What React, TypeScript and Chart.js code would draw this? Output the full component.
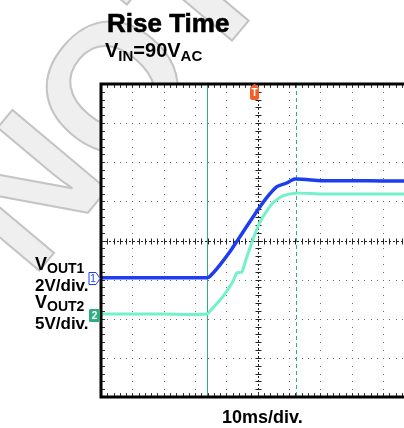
import React, { useEffect, useRef } from "react";
import { Chart, registerables } from "chart.js";

Chart.register(...registerables);

// Time axis (ms), 10 ms/div, 10 divisions
const xTicks = [-50, -40, -30, -20, -10, 0, 10, 20, 30, 40, 50];
// Vertical axis in divisions, 8 divisions
const yTicks = [-4, -3, -2, -1, 0, 1, 2, 3, 4];

// VOUT1 (2V/div) trace
const vout1Time = [-50, -30, -16.3, -15.3, -12.1, -8.9, -6.4, -3.6, 0, 2.8, 6.0, 9.2, 11.8, 20, 30, 40, 50];
const vout1Div = [-0.95, -0.95, -0.95, -0.92, -0.63, -0.29, 0.01, 0.35, 0.78, 1.09, 1.37, 1.47, 1.57, 1.53, 1.53, 1.52, 1.52];

// VOUT2 (5V/div) trace
const vout2Time = [-50, -30, -16.3, -14.4, -11.2, -8.0, -6.7, -5.1, -3.5, -1.6, 0, 1.6, 4.8, 8.0, 12.1, 20, 35, 50];
const vout2Div = [-1.88, -1.88, -1.88, -1.73, -1.44, -1.06, -0.83, -0.81, -0.42, 0.01, 0.35, 0.6, 0.96, 1.14, 1.21, 1.19, 1.19, 1.19];

// Cursors and trigger (ms)
const cursorTimes = [-16.3, 12.1];
const triggerTime = -1.2;

const BLUE = "#1e3cf0";
const CYAN = "#72f2ca";
const GREEN = "#2fae82";
const ORANGE = "#f2602a";

const scopePlugin = {
  id: "scope",
  beforeDatasetsDraw(chart: any) {
    const { ctx, chartArea: a, scales } = chart;
    const xs = scales.x;
    const ys = scales.y;
    ctx.save();
    ctx.fillStyle = "#fff";
    ctx.fillRect(a.left, a.top, a.right - a.left, a.bottom - a.top);
    // dotted grid
    ctx.fillStyle = "#6a6a6a";
    xTicks.forEach((gx) => {
      if (gx === 0 || gx === xTicks[0] || gx === xTicks[xTicks.length - 1]) return;
      const px = Math.round(xs.getPixelForValue(gx));
      for (let k = -20; k <= 20; k++) {
        const py = Math.round(ys.getPixelForValue(k / 5));
        ctx.fillRect(px, py, 1, 1);
      }
    });
    yTicks.forEach((gy) => {
      if (gy === 0 || gy === yTicks[0] || gy === yTicks[yTicks.length - 1]) return;
      const py = Math.round(ys.getPixelForValue(gy));
      for (let k = -25; k <= 25; k++) {
        const px = Math.round(xs.getPixelForValue(k * 2));
        ctx.fillRect(px, py, 1, 1);
      }
    });
    // center crosshair
    const cx = Math.round(xs.getPixelForValue(0)) + 0.5;
    const cy = Math.round(ys.getPixelForValue(0)) + 0.5;
    ctx.strokeStyle = "#222";
    ctx.lineWidth = 1;
    ctx.setLineDash([2, 2]);
    ctx.beginPath();
    ctx.moveTo(cx, a.top);
    ctx.lineTo(cx, a.bottom);
    ctx.moveTo(a.left, cy);
    ctx.lineTo(a.right, cy);
    ctx.stroke();
    ctx.setLineDash([]);
    ctx.beginPath();
    for (let k = -20; k <= 20; k++) {
      const py = Math.round(ys.getPixelForValue(k / 5)) + 0.5;
      ctx.moveTo(cx - 3, py);
      ctx.lineTo(cx + 3, py);
    }
    for (let k = -25; k <= 25; k++) {
      const px = Math.round(xs.getPixelForValue(k * 2)) + 0.5;
      ctx.moveTo(px, cy - 3);
      ctx.lineTo(px, cy + 3);
    }
    ctx.stroke();
    // cursors
    ctx.strokeStyle = GREEN;
    ctx.lineWidth = 1;
    cursorTimes.forEach((t, i) => {
      const px = Math.round(xs.getPixelForValue(t)) + 0.5;
      ctx.setLineDash(i === 0 ? [] : [4, 3]);
      ctx.beginPath();
      ctx.moveTo(px, a.top);
      ctx.lineTo(px, a.bottom);
      ctx.stroke();
    });
    ctx.setLineDash([]);
    ctx.restore();
  },
  afterDatasetsDraw(chart: any) {
    const { ctx, chartArea: a, scales } = chart;
    const xs = scales.x;
    const ys = scales.y;
    ctx.save();
    // border ticks
    ctx.strokeStyle = "#333";
    ctx.lineWidth = 1;
    ctx.beginPath();
    for (let k = -20; k <= 20; k++) {
      const py = Math.round(ys.getPixelForValue(k / 5)) + 0.5;
      ctx.moveTo(a.left, py);
      ctx.lineTo(a.left + 4, py);
    }
    for (let k = -25; k <= 25; k++) {
      const px = Math.round(xs.getPixelForValue(k * 2)) + 0.5;
      ctx.moveTo(px, a.top);
      ctx.lineTo(px, a.top + 4);
      ctx.moveTo(px, a.bottom);
      ctx.lineTo(px, a.bottom - 4);
    }
    ctx.stroke();
    // frame
    ctx.strokeStyle = "#000";
    ctx.lineWidth = 3;
    ctx.beginPath();
    ctx.moveTo(a.right + 5, a.top);
    ctx.lineTo(a.left, a.top);
    ctx.lineTo(a.left, a.bottom);
    ctx.lineTo(a.right + 5, a.bottom);
    ctx.stroke();
    // trigger marker
    const tx = xs.getPixelForValue(triggerTime);
    ctx.fillStyle = ORANGE;
    ctx.fillRect(tx - 0.5, a.top, 2, 4);
    ctx.beginPath();
    ctx.roundRect(tx - 4, a.top + 2, 9, 14, 2.5);
    ctx.fill();
    ctx.fillStyle = "#fff";
    ctx.font = "bold 10px 'Liberation Sans', Arial, sans-serif";
    ctx.textAlign = "center";
    ctx.textBaseline = "middle";
    ctx.fillText("T", tx + 0.5, a.top + 9.5);
    // channel markers
    const y1 = Math.round(ys.getPixelForValue(vout1Div[0])) + 0.5;
    ctx.strokeStyle = BLUE;
    ctx.lineWidth = 1;
    ctx.fillStyle = "#fff";
    ctx.beginPath();
    ctx.moveTo(a.left - 12, y1 - 6);
    ctx.lineTo(a.left - 5, y1 - 6);
    ctx.lineTo(a.left - 1, y1);
    ctx.lineTo(a.left - 5, y1 + 6);
    ctx.lineTo(a.left - 12, y1 + 6);
    ctx.closePath();
    ctx.fill();
    ctx.stroke();
    ctx.fillStyle = BLUE;
    ctx.font = "10px 'Liberation Sans', Arial, sans-serif";
    ctx.fillText("1", a.left - 8, y1 + 0.5);
    const y2 = Math.round(ys.getPixelForValue(vout2Div[0])) + 1;
    ctx.fillStyle = GREEN;
    ctx.beginPath();
    ctx.roundRect(a.left - 12, y2 - 6, 11, 13, 1.5);
    ctx.fill();
    ctx.fillStyle = "#fff";
    ctx.font = "bold 10px 'Liberation Sans', Arial, sans-serif";
    ctx.fillText("2", a.left - 6.5, y2 + 1);
    ctx.restore();
  },
};

export default function App() {
  const ref = useRef<HTMLCanvasElement | null>(null);
  useEffect(() => {
    if (!ref.current) return;
    const chart = new Chart(ref.current, {
      type: "scatter",
      data: {
        datasets: [
          {
            label: "VOUT2",
            data: vout2Time.map((t, i) => ({ x: t, y: vout2Div[i] })),
            showLine: true,
            borderColor: CYAN,
            borderWidth: 3,
            pointRadius: 0,
            tension: 0.2,
          },
          {
            label: "VOUT1",
            data: vout1Time.map((t, i) => ({ x: t, y: vout1Div[i] })),
            showLine: true,
            borderColor: BLUE,
            borderWidth: 3.5,
            pointRadius: 0,
            tension: 0.2,
          },
        ],
      },
      options: {
        animation: false,
        responsive: false,
        devicePixelRatio: 1,
        layout: { padding: { left: 101, top: 84, right: 25.5, bottom: 31 } },
        plugins: { legend: { display: false }, tooltip: { enabled: false }, title: { display: false } },
        scales: {
          x: { type: "linear", min: -50, max: 50, display: false },
          y: { type: "linear", min: -4, max: 4, display: false },
        },
      },
      plugins: [scopePlugin],
    });
    return () => chart.destroy();
  }, []);

  const font = "'Liberation Sans', Arial, Helvetica, sans-serif";
  const sub = (t: string, size: number, drop: number) => (
    <span style={{ fontSize: size, position: "relative", top: drop }}>{t}</span>
  );
  return (
    <div
      style={{
        position: "fixed",
        left: 0,
        top: 0,
        width: 404,
        height: 428,
        overflow: "hidden",
        background: "#fff",
        fontFamily: font,
      }}
    >
      <div
        style={{
          position: "absolute",
          left: -85,
          top: 182,
          fontSize: 180,
          fontWeight: "bold",
          color: "#efefef",
          WebkitTextStroke: "2px #c4c4c4",
          transform: "rotate(-50deg)",
          transformOrigin: "0 0",
          whiteSpace: "nowrap",
          lineHeight: 1,
        }}
      >
        NOT RECOMMENDED
      </div>
      <canvas ref={ref} width={440} height={428} style={{ position: "absolute", left: 0, top: 0, width: 440, height: 428 }} />
      <div style={{ position: "absolute", left: 107, top: 9.5, fontSize: 26, fontWeight: "bold", lineHeight: 1, whiteSpace: "nowrap", WebkitTextStroke: "0.6px #000" }}>
        Rise Time
      </div>
      <div style={{ position: "absolute", left: 105, top: 39.5, fontSize: 20, fontWeight: "bold", lineHeight: 1, whiteSpace: "nowrap" }}>
        V{sub("IN", 15, 4)}=90V{sub("AC", 15, 4)}
      </div>
      <div style={{ position: "absolute", left: 35, top: 255, fontSize: 18, fontWeight: "bold", lineHeight: 1, whiteSpace: "nowrap" }}>
        V{sub("OUT1", 14, 3)}
      </div>
      <div style={{ position: "absolute", left: 35, top: 277, fontSize: 17, fontWeight: "bold", lineHeight: 1, whiteSpace: "nowrap" }}>
        2V/div.
      </div>
      <div style={{ position: "absolute", left: 35, top: 293, fontSize: 18, fontWeight: "bold", lineHeight: 1, whiteSpace: "nowrap" }}>
        V{sub("OUT2", 14, 3)}
      </div>
      <div style={{ position: "absolute", left: 35, top: 315, fontSize: 17, fontWeight: "bold", lineHeight: 1, whiteSpace: "nowrap" }}>
        5V/div.
      </div>
      <div style={{ position: "absolute", left: 222, top: 407.5, fontSize: 18, fontWeight: "bold", lineHeight: 1, whiteSpace: "nowrap" }}>
        10ms/div.
      </div>
    </div>
  );
}
